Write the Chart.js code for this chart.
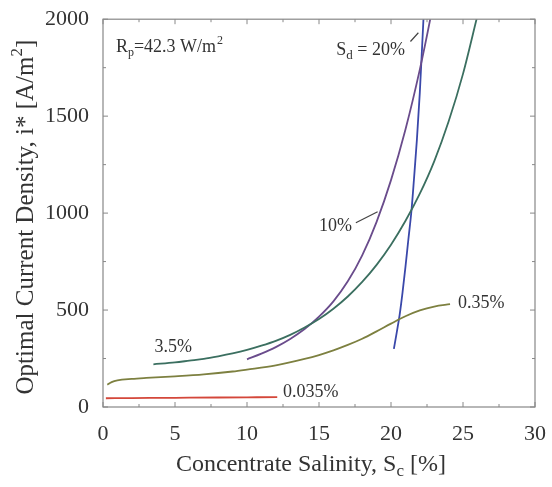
<!DOCTYPE html>
<html>
<head>
<meta charset="utf-8">
<script src="https://cdn.jsdelivr.net/npm/chart.js@4.4.1/dist/chart.umd.min.js"></script>
<style>
  body { margin: 0; background: #fff; }
  #wrap { width: 552px; height: 487px; position: relative; }
</style>
</head>
<body>
<div id="wrap"><canvas id="myChart"></canvas></div>
<script>
// Axis ticks
const xTicks = [0, 5, 10, 15, 20, 25, 30];
const yTicks = [0, 500, 1000, 1500, 2000];

// Curves: [salinity %, current density A/m2]
const curve0035 = [[0.2, 45], [2, 46], [4, 47], [6, 48], [8, 49], [10, 50], [12.1, 51]];
const curve035 = [[0.3, 115], [0.6, 128], [1, 137], [2, 145], [3, 150], [5, 158], [7, 168], [9, 183],
  [10, 193], [12, 215], [14, 248], [15, 268], [16, 292], [17, 320], [18, 352], [19, 390],
  [20, 430], [21, 468], [22, 498], [23, 518], [24.1, 530]];
const curve35 = [[3.5, 220], [5, 230], [6, 239], [7, 248], [8, 261], [9, 276], [10, 294], [11, 316],
  [12, 341], [13, 372], [14, 410], [15, 454], [16, 507], [17, 570], [18, 645], [19, 733],
  [20, 837], [21, 959], [22, 1100], [23, 1267], [24, 1472], [25, 1718], [26, 2018]];
const curve10 = [[10, 246], [11, 275], [12, 309], [13, 351], [14, 402], [15, 466], [16, 545], [17, 648],
  [18, 782], [19, 955], [20, 1170], [21, 1430], [22, 1740], [22.75, 2010], [23, 2110]];
const curve20 = [[20.2, 300], [20.4, 385], [20.6, 475], [20.8, 590], [21, 720], [21.2, 860],
  [21.43, 1020], [21.6, 1180], [21.8, 1380], [22, 1620], [22.26, 2010]];

// Curve labels [x, y baseline, text]
const curveLabels = [
  [3.58, 282, '3.5%'],
  [12.5, 51, '0.035%'],
  [24.65, 508, '0.35%'],
  [15.0, 910, '10%']
];
// Leader lines [x1, y1, x2, y2]
const leaders = [
  [17.56, 950, 19.07, 1007],
  [21.35, 1885, 21.9, 1930]
];

const serif = "'Liberation Serif', 'DejaVu Serif', serif";
const textColor = '#333';

function toPts(arr) {
  return arr.map(p => ({ x: p[0], y: p[1] }));
}

function makeSet(data, color) {
  return {
    data: toPts(data),
    showLine: true,
    borderColor: color,
    borderWidth: 1.8,
    pointRadius: 0,
    cubicInterpolationMode: 'monotone',
    fill: false
  };
}

// draws frame, inward ticks, annotations and axis titles
const decorPlugin = {
  id: 'decor',
  afterDatasetsDraw(chart) {
    const c = chart.ctx;
    const a = chart.chartArea;
    const xs = chart.scales.x;
    const ys = chart.scales.y;
    c.save();
    c.strokeStyle = '#888';
    c.lineWidth = 1.2;
    c.strokeRect(a.left, a.top, a.right - a.left, a.bottom - a.top);

    c.lineWidth = 1;
    c.beginPath();
    for (let v = 0; v <= 30; v += 2.5) {
      const px = xs.getPixelForValue(v);
      const len = xTicks.includes(v) ? 5 : 3;
      c.moveTo(px, a.bottom); c.lineTo(px, a.bottom - len);
      c.moveTo(px, a.top); c.lineTo(px, a.top + len);
    }
    for (let v = 0; v <= 2000; v += 250) {
      const py = ys.getPixelForValue(v);
      const len = yTicks.includes(v) ? 5 : 3;
      c.moveTo(a.left, py); c.lineTo(a.left + len, py);
      c.moveTo(a.right, py); c.lineTo(a.right - len, py);
    }
    c.stroke();

    // leader lines
    c.strokeStyle = '#444';
    c.lineWidth = 1.2;
    c.beginPath();
    leaders.forEach(l => {
      c.moveTo(xs.getPixelForValue(l[0]), ys.getPixelForValue(l[1]));
      c.lineTo(xs.getPixelForValue(l[2]), ys.getPixelForValue(l[3]));
    });
    c.stroke();

    c.fillStyle = textColor;
    c.textBaseline = 'alphabetic';
    c.textAlign = 'left';
    c.font = '18px ' + serif;
    curveLabels.forEach(l => {
      c.fillText(l[2], xs.getPixelForValue(l[0]), ys.getPixelForValue(l[1]));
    });

    // R_p = 42.3 W/m^2
    let px = xs.getPixelForValue(0.9);
    let py = ys.getPixelForValue(1830);
    c.font = '18px ' + serif;
    c.fillText('R', px, py);
    px += c.measureText('R').width;
    c.font = '12px ' + serif;
    c.fillText('p', px, py + 4);
    px += c.measureText('p').width;
    c.font = '18px ' + serif;
    c.fillText('=42.3 W/m', px, py);
    px += c.measureText('=42.3 W/m').width;
    c.font = '12px ' + serif;
    c.fillText('2', px + 1, py - 8);

    // S_d = 20%
    px = xs.getPixelForValue(16.2);
    py = ys.getPixelForValue(1815);
    c.font = '18px ' + serif;
    c.fillText('S', px, py);
    px += c.measureText('S').width;
    c.font = '13px ' + serif;
    c.fillText('d', px, py + 4);
    px += c.measureText('d').width;
    c.font = '18px ' + serif;
    c.fillText(' = 20%', px, py);

    // x axis title
    const big = '24px ' + serif;
    const small = '17px ' + serif;
    const t1 = 'Concentrate Salinity, S';
    const t2 = ' [%]';
    c.font = big;
    const w1 = c.measureText(t1).width;
    const w3 = c.measureText(t2).width;
    c.font = small;
    const w2 = c.measureText('c').width;
    let tx = (a.left + a.right) / 2 - 8 - (w1 + w2 + w3) / 2;
    const ty = 471;
    c.font = big;
    c.fillText(t1, tx, ty);
    c.font = small;
    c.fillText('c', tx + w1, ty + 5);
    c.font = big;
    c.fillText(t2, tx + w1 + w2, ty);

    // y axis title
    c.font = '25px ' + serif;
    c.translate(33, (a.top + a.bottom) / 2 + 4);
    c.rotate(-Math.PI / 2);
    const s1 = 'Optimal Current Density, i* [A/m';
    const s3 = ']';
    const v1 = c.measureText(s1).width;
    const v3 = c.measureText(s3).width;
    c.font = small;
    const v2 = c.measureText('2').width;
    tx = -(v1 + v2 + v3) / 2;
    c.font = '25px ' + serif;
    c.fillText(s1, tx, 0);
    c.font = small;
    c.fillText('2', tx + v1, -11);
    c.font = '25px ' + serif;
    c.fillText(s3, tx + v1 + v2, 0);
    c.restore();
  }
};

const ctx = document.getElementById('myChart').getContext('2d');
new Chart(ctx, {
  type: 'scatter',
  data: {
    datasets: [
      makeSet(curve0035, '#d4473a'),
      makeSet(curve035, '#7d8040'),
      makeSet(curve35, '#3b6f60'),
      makeSet(curve10, '#6a4c8c'),
      makeSet(curve20, '#3a48aa')
    ]
  },
  options: {
    responsive: true,
    maintainAspectRatio: false,
    animation: false,
    layout: { padding: { top: 17, right: 17, left: 0, bottom: 0 } },
    plugins: { legend: { display: false }, tooltip: { enabled: false } },
    scales: {
      x: {
        type: 'linear',
        min: 0,
        max: 30,
        afterBuildTicks: s => { s.ticks = xTicks.map(v => ({ value: v })); },
        afterFit: s => { s.height = 80; },
        grid: { display: false },
        border: { display: false },
        ticks: { padding: 6, color: textColor, font: { family: serif, size: 22 }, maxRotation: 0,
          callback: v => String(v) }
      },
      y: {
        type: 'linear',
        min: 0,
        max: 2000,
        afterBuildTicks: s => { s.ticks = yTicks.map(v => ({ value: v })); },
        afterFit: s => { s.width = 103; },
        grid: { display: false },
        border: { display: false },
        ticks: { padding: 6, color: textColor, font: { family: serif, size: 22 },
          callback: v => String(v) }
      }
    }
  },
  plugins: [decorPlugin]
});
</script>
</body>
</html>
